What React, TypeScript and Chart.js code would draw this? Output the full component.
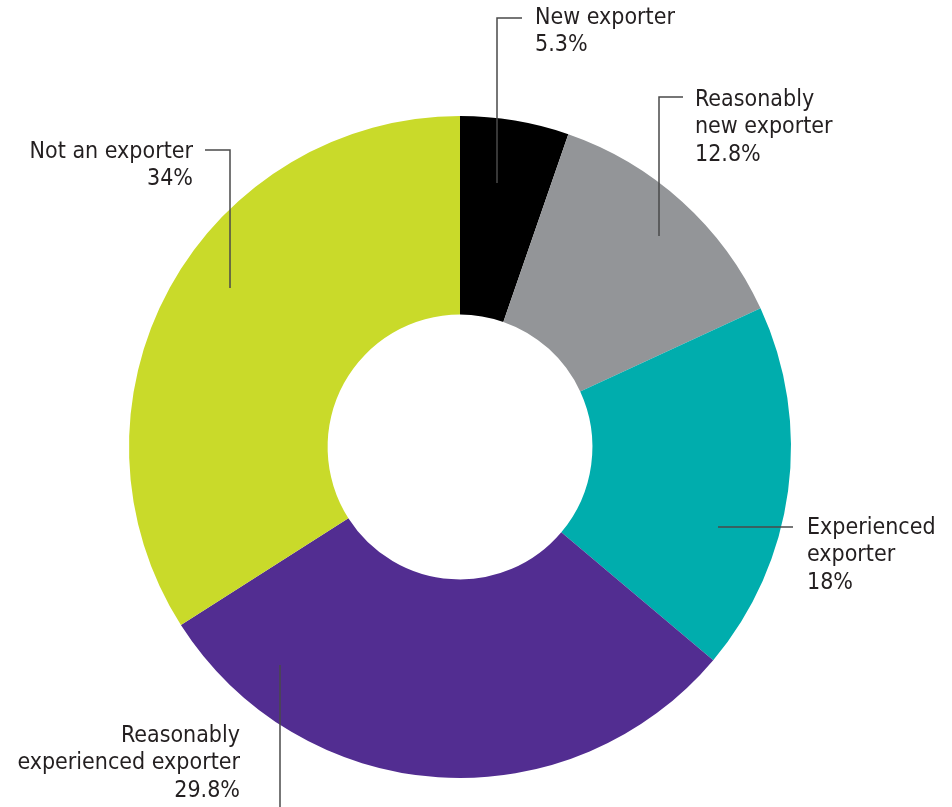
import React, { useEffect, useRef } from "react";
import { Chart, registerables } from "chart.js";

Chart.register(...registerables);

const categories = [
  "New exporter",
  "Reasonably new exporter",
  "Experienced exporter",
  "Reasonably experienced exporter",
  "Not an exporter",
];
const values = [5.3, 12.8, 18, 29.8, 34];
const valueLabels = ["5.3%", "12.8%", "18%", "29.8%", "34%"];
const labelLines = [
  ["New exporter"],
  ["Reasonably", "new exporter"],
  ["Experienced", "exporter"],
  ["Reasonably", "experienced exporter"],
  ["Not an exporter"],
];
const colors = ["#000000", "#939598", "#00ADAD", "#522D91", "#C9DA2A"];

// leader-line layout (screen coordinates)
const layout = [
  { path: [[497, 183], [497, 18], [522, 18]], tx: 535, ty: 18, align: "left" },
  { path: [[659, 236], [659, 97], [683, 97]], tx: 695, ty: 100, align: "left" },
  { path: [[718, 527], [793, 527]], tx: 807, ty: 528, align: "left" },
  { path: [[280, 665], [280, 807]], tx: 240, ty: 736, align: "right" },
  { path: [[230, 288], [230, 150], [205, 150]], tx: 193, ty: 152, align: "right" },
];

const labelPlugin = {
  id: "leaderLabels",
  afterDraw(chart: any) {
    const ctx = chart.ctx;
    ctx.save();
    layout.forEach((l, i) => {
      ctx.strokeStyle = "#4a4a4a";
      ctx.lineWidth = 1.5;
      ctx.beginPath();
      l.path.forEach((p, j) => (j === 0 ? ctx.moveTo(p[0], p[1]) : ctx.lineTo(p[0], p[1])));
      ctx.stroke();
      ctx.fillStyle = "#231f20";
      ctx.font = "23px 'DejaVu Sans Condensed', 'DejaVu Sans', sans-serif";
      ctx.textAlign = l.align;
      ctx.textBaseline = "middle";
      const lines = [...labelLines[i], valueLabels[i]];
      lines.forEach((t, k) => ctx.fillText(t, l.tx, l.ty + k * 27.5));
    });
    ctx.restore();
  },
};

export default function App() {
  const ref = useRef<HTMLCanvasElement>(null);
  useEffect(() => {
    if (!ref.current) return;
    const chart = new Chart(ref.current, {
      type: "doughnut",
      data: {
        labels: categories,
        datasets: [
          {
            data: values,
            backgroundColor: colors,
            borderWidth: 0,
          },
        ],
      },
      options: {
        animation: false,
        responsive: false,
        cutout: "40%",
        layout: { padding: { left: 129, right: 161, top: 116, bottom: 29 } },
        plugins: {
          legend: { display: false },
          tooltip: { enabled: false },
        },
      },
      plugins: [labelPlugin],
    });
    return () => chart.destroy();
  }, []);
  return (
    <div style={{ position: "fixed", left: 0, top: 0, width: 952, height: 807, background: "#fff" }}>
      <canvas ref={ref} width={952} height={807} style={{ width: 952, height: 807 }} />
    </div>
  );
}
